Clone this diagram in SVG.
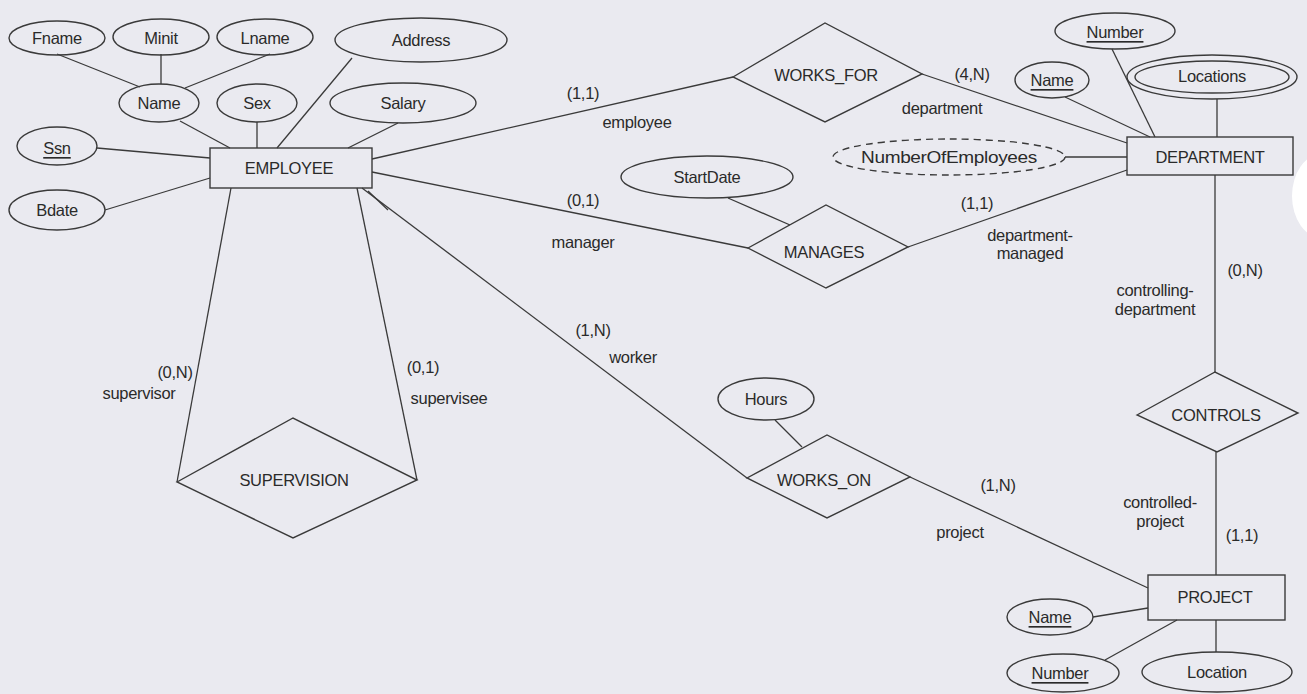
<svg xmlns="http://www.w3.org/2000/svg" width="1307" height="694" viewBox="0 0 1307 694">
<style>
.bg{fill:#eaeaf0}
.sh{fill:none;stroke:#3a3a3a;stroke-width:1.4}
.dash{fill:none;stroke:#3a3a3a;stroke-width:1.4;stroke-dasharray:7 5}
.ln{stroke:#3a3a3a;stroke-width:1.3;fill:none}
text{font-family:"Liberation Sans",Arial,sans-serif;font-size:16.5px;fill:#2a2a2a;text-anchor:middle;dominant-baseline:central;letter-spacing:-0.3px}
.u{text-decoration:underline}
</style>
<rect class="bg" x="0" y="0" width="1307" height="694"/>
<ellipse cx="1322" cy="196" rx="30" ry="42" fill="#ffffff"/>

<g id="connectors">
<line class="ln" x1="57" y1="54" x2="140" y2="87"/>
<line class="ln" x1="161" y1="54" x2="161" y2="84"/>
<line class="ln" x1="270" y1="54" x2="185" y2="88"/>
<line class="ln" x1="180" y1="121" x2="230" y2="148"/>
<line class="ln" x1="257" y1="122" x2="257" y2="148"/>
<line class="ln" x1="352" y1="58" x2="277" y2="148"/>
<line class="ln" x1="398" y1="123" x2="348" y2="148"/>
<line class="ln" x1="97" y1="148" x2="210" y2="158"/>
<line class="ln" x1="105" y1="210" x2="210" y2="178"/>
<line class="ln" x1="372" y1="159" x2="733" y2="77"/>
<line class="ln" x1="922" y1="74" x2="1127" y2="143"/>
<line class="ln" x1="1065" y1="97" x2="1150" y2="137"/>
<line class="ln" x1="1112" y1="49" x2="1155" y2="137"/>
<line class="ln" x1="1217" y1="99" x2="1217" y2="137"/>
<line class="ln" x1="1065" y1="157" x2="1127" y2="157"/>
<line class="ln" x1="372" y1="172" x2="748" y2="248"/>
<line class="ln" x1="728" y1="198" x2="790" y2="225"/>
<line class="ln" x1="908" y1="247" x2="1127" y2="170"/>
<line class="ln" x1="1215" y1="175" x2="1215" y2="372"/>
<line class="ln" x1="1216" y1="452" x2="1216" y2="575"/>
<line class="ln" x1="362" y1="188" x2="747" y2="478"/>
<line class="ln" x1="368" y1="191" x2="388" y2="210"/>
<line class="ln" x1="775" y1="420" x2="802" y2="447"/>
<line class="ln" x1="910" y1="477" x2="1148" y2="588"/>
<line class="ln" x1="231" y1="188" x2="177" y2="482"/>
<line class="ln" x1="357" y1="188" x2="417" y2="480"/>
<line class="ln" x1="1093" y1="617" x2="1148" y2="608"/>
<line class="ln" x1="1105" y1="660" x2="1177" y2="620"/>
<line class="ln" x1="1216" y1="620" x2="1216" y2="652"/>
</g>

<g id="employee"><rect class="sh" x="210" y="148" width="162" height="40"/><text x="289" y="168">EMPLOYEE</text></g>
<g id="department"><rect class="sh" x="1127" y="137" width="166" height="38"/><text x="1210" y="157">DEPARTMENT</text></g>
<g id="project"><rect class="sh" x="1148" y="575" width="137" height="45"/><text x="1215" y="597">PROJECT</text></g>

<g id="fname"><ellipse class="sh" cx="57" cy="38" rx="48" ry="17"/><text x="57" y="38">Fname</text></g>
<g id="minit"><ellipse class="sh" cx="161" cy="37" rx="48" ry="18"/><text x="161" y="38">Minit</text></g>
<g id="lname"><ellipse class="sh" cx="265" cy="37" rx="48" ry="18"/><text x="265" y="38">Lname</text></g>
<g id="address"><ellipse class="sh" cx="421" cy="40" rx="86" ry="22"/><text x="421" y="40">Address</text></g>
<g id="name"><ellipse class="sh" cx="159" cy="103" rx="40" ry="19"/><text x="159" y="103">Name</text></g>
<g id="sex"><ellipse class="sh" cx="257" cy="103" rx="40" ry="19"/><text x="257" y="103">Sex</text></g>
<g id="salary"><ellipse class="sh" cx="403" cy="103" rx="73" ry="20"/><text x="403" y="103">Salary</text></g>
<g id="ssn"><ellipse class="sh" cx="57" cy="146" rx="40" ry="19"/><text class="u" x="57" y="148">Ssn</text></g>
<g id="bdate"><ellipse class="sh" cx="57" cy="210" rx="48" ry="20"/><text x="57" y="210">Bdate</text></g>

<g id="works_for"><polygon class="sh" points="733,77 825,23 922,74 825,122"/><text x="826" y="75">WORKS_FOR</text></g>
<g id="manages"><polygon class="sh" points="748,248 826,205 908,247 826,288"/><text x="824" y="252">MANAGES</text></g>
<g id="works_on"><polygon class="sh" points="747,478 827,435 910,477 827,518"/><text x="824" y="480">WORKS_ON</text></g>
<g id="supervision"><polygon class="sh" points="177,482 293,418 417,480 293,538"/><text x="294" y="480">SUPERVISION</text></g>
<g id="controls"><polygon class="sh" points="1137,415 1215,372 1298,413 1217,452"/><text x="1216" y="415">CONTROLS</text></g>

<g id="startdate"><ellipse class="sh" cx="707" cy="177" rx="86" ry="21"/><text x="707" y="177">StartDate</text></g>
<g id="hours"><ellipse class="sh" cx="766" cy="399" rx="48" ry="21"/><text x="766" y="399">Hours</text></g>
<g id="numberofemployees"><ellipse class="dash" cx="949" cy="157" rx="116" ry="18"/><text x="949" y="157" textLength="176" lengthAdjust="spacingAndGlyphs">NumberOfEmployees</text></g>
<g id="dept_number"><ellipse class="sh" cx="1115" cy="31" rx="60" ry="18"/><text class="u" x="1115" y="32">Number</text></g>
<g id="dept_name"><ellipse class="sh" cx="1052" cy="80" rx="37" ry="18"/><text class="u" x="1052" y="80">Name</text></g>
<g id="locations"><ellipse class="sh" cx="1212" cy="77" rx="85" ry="22"/><ellipse class="sh" cx="1212" cy="77" rx="77" ry="16"/><text x="1212" y="76">Locations</text></g>
<g id="proj_name"><ellipse class="sh" cx="1050" cy="617" rx="43" ry="18"/><text class="u" x="1050" y="617">Name</text></g>
<g id="proj_number"><ellipse class="sh" cx="1063" cy="673" rx="56" ry="19"/><text class="u" x="1060" y="673">Number</text></g>
<g id="location"><ellipse class="sh" cx="1217" cy="672" rx="75" ry="20"/><text x="1217" y="672">Location</text></g>

<g id="labels">
<text x="583" y="93">(1,1)</text>
<text x="637" y="122">employee</text>
<text x="972" y="74">(4,N)</text>
<text x="942" y="108">department</text>
<text x="583" y="200">(0,1)</text>
<text x="583" y="242">manager</text>
<text x="977" y="203">(1,1)</text>
<text x="1030" y="235">department-</text>
<text x="1030" y="253">managed</text>
<text x="1245" y="270">(0,N)</text>
<text x="1155" y="290">controlling-</text>
<text x="1155" y="309">department</text>
<text x="1160" y="502">controlled-</text>
<text x="1160" y="521">project</text>
<text x="1242" y="535">(1,1)</text>
<text x="998" y="485">(1,N)</text>
<text x="960" y="532">project</text>
<text x="593" y="330">(1,N)</text>
<text x="633" y="357">worker</text>
<text x="175" y="372">(0,N)</text>
<text x="139" y="393">supervisor</text>
<text x="423" y="367">(0,1)</text>
<text x="449" y="398">supervisee</text>
</g>
</svg>
